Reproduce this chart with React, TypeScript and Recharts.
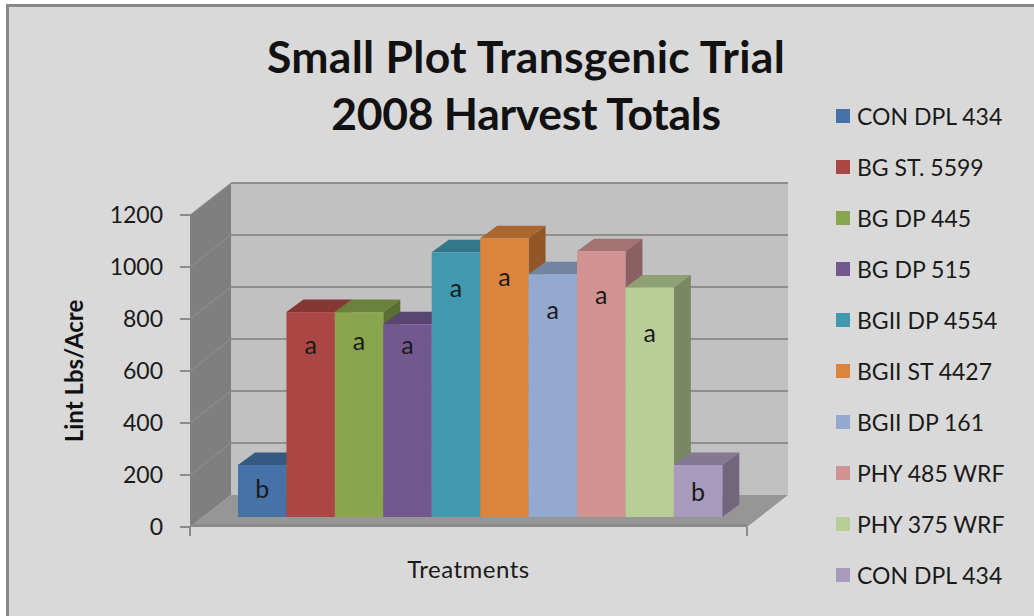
import {
  BarChart,
  Bar,
  XAxis,
  YAxis,
  Legend,
  ReferenceArea,
  ReferenceLine,
} from 'recharts';

const names = [
  'CON DPL 434',
  'BG ST. 5599',
  'BG DP 445',
  'BG DP 515',
  'BGII DP 4554',
  'BGII ST 4427',
  'BGII DP 161',
  'PHY 485 WRF',
  'PHY 375 WRF',
  'CON DPL 434',
];
const values = [200, 788, 788, 741, 1018, 1072, 934, 1022, 883, 200];
const letters = ['b', 'a', 'a', 'a', 'a', 'a', 'a', 'a', 'a', 'b'];
const colors = [
  '#4572a7',
  '#aa4643',
  '#89a54e',
  '#71588f',
  '#4198af',
  '#db843d',
  '#93a9cf',
  '#d19392',
  '#b9cd96',
  '#a99bbd',
];
const yTicks = [0, 200, 400, 600, 800, 1000, 1200];

const row: Record<string, string | number> = { category: 'Treatments' };
values.forEach((v, i) => {
  row[`s${i}`] = v;
});
const data = [row];

const FONT = 'Lato, "Open Sans", sans-serif';
// wall depth and the bars' offset into the floor
const WALL_DX = 41;
const WALL_DY = 32;
const BAR_DX = 12;
const BAR_DY = 10;
const TOP_DX = 17;
const TOP_DY = 12.5;
// how far each letter sits below its bar's top
const letterDrop = [23, 32, 28, 20, 35, 38, 35, 43, 45, 26];

function shade(hex: string, f: number) {
  const n = parseInt(hex.slice(1), 16);
  const r = Math.round(((n >> 16) & 255) * f);
  const g = Math.round(((n >> 8) & 255) * f);
  const b = Math.round((n & 255) * f);
  return `rgb(${r},${g},${b})`;
}

function Walls(props: any) {
  const { x, y, width, height } = props;
  const b = y + height;
  const r = x + width;
  return (
    <g>
      <polygon
        points={`${x},${y} ${x + WALL_DX},${y - WALL_DY} ${x + WALL_DX},${b - WALL_DY} ${x},${b}`}
        fill="#7f7f7f"
      />
      <rect x={x + WALL_DX} y={y - WALL_DY} width={width} height={height} fill="#c1c1c1" />
      <polygon
        points={`${x},${b} ${x + WALL_DX},${b - WALL_DY} ${r + WALL_DX},${b - WALL_DY} ${r},${b}`}
        fill="#969696"
      />
      <rect x={x} y={b - 3} width={width} height={3} fill="#8a8a8a" />
      <line x1={x} x2={x} y1={b} y2={b + 9} stroke="#8a8a8a" strokeWidth={2} />
      <line x1={r} x2={r} y1={b} y2={b + 9} stroke="#8a8a8a" strokeWidth={2} />
    </g>
  );
}

function GridLine(props: any) {
  const { x1, x2, y1 } = props;
  return (
    <g>
      <line x1={x1} x2={x1 + WALL_DX} y1={y1} y2={y1 - WALL_DY} stroke="#929292" strokeWidth={1} />
      <line
        x1={x1 + WALL_DX}
        x2={x2 + WALL_DX}
        y1={y1 - WALL_DY}
        y2={y1 - WALL_DY}
        stroke="#8e8e8e"
        strokeWidth={2}
      />
    </g>
  );
}

function Bar3D(props: any) {
  const { x, y, width, height, fill, index } = props;
  const l = x + BAR_DX;
  const r = l + width;
  const t = y - BAR_DY;
  const b = t + height;
  return (
    <g>
      <polygon
        points={`${l},${t} ${l + TOP_DX},${t - TOP_DY} ${r + TOP_DX},${t - TOP_DY} ${r},${t}`}
        fill={shade(fill, 0.78)}
      />
      <polygon
        points={`${r},${t} ${r + TOP_DX},${t - TOP_DY} ${r + TOP_DX},${b - TOP_DY} ${r},${b}`}
        fill={shade(fill, 0.66)}
      />
      <rect x={l} y={t} width={width} height={height} fill={fill} />
      <text
        x={l + width / 2}
        y={t + letterDrop[index]}
        textAnchor="middle"
        dominantBaseline="central"
        fontFamily={FONT}
        fontSize={25}
        fill="#1a1a1a"
      >
        {letters[index]}
      </text>
    </g>
  );
}

function LegendList({ payload }: any) {
  return (
    <div style={{ fontFamily: FONT, fontSize: 23, color: '#1a1a1a' }}>
      {payload.map((item: any, i: number) => (
        <div key={i} style={{ height: 51, display: 'flex', alignItems: 'center' }}>
          <span
            style={{ width: 14, height: 14, background: item.color, marginRight: 7, flex: 'none' }}
          />
          <span style={{ whiteSpace: 'nowrap' }}>{item.value}</span>
        </div>
      ))}
    </div>
  );
}

export default function App() {
  return (
    <div
      style={{
        position: 'absolute',
        left: 0,
        top: 0,
        width: 1034,
        height: 616,
        overflow: 'hidden',
        background: '#fff',
      }}
    >
      <div
        style={{
          position: 'absolute',
          left: 6,
          top: 4,
          width: 1100,
          height: 700,
          background: '#d9d9d9',
          border: '3px solid #888',
        }}
      />
      <div
        style={{
          position: 'absolute',
          left: 0,
          top: 27,
          width: 1052,
          textAlign: 'center',
          fontFamily: FONT,
          fontWeight: 700,
          fontSize: 44.5,
          lineHeight: '57px',
          color: '#111',
        }}
      >
        <span style={{ letterSpacing: 0.3 }}>Small Plot Transgenic Trial</span>
        <br />
        <span style={{ letterSpacing: -0.3 }}>2008 Harvest Totals</span>
      </div>
      <div style={{ position: 'absolute', left: 0, top: 0 }}>
        <BarChart
          width={1034}
          height={616}
          data={data}
          margin={{ top: 215, right: 287, bottom: 0, left: 0 }}
          barGap={0}
          barSize={48.43}
        >
          <XAxis
            dataKey="category"
            height={89}
            axisLine={false}
            tickLine={false}
            tick={false}
            label={{
              value: 'Treatments',
              position: 'insideBottom',
              offset: 38,
              style: { fontFamily: FONT, fontSize: 24, letterSpacing: 0.5, fill: '#1a1a1a' },
            }}
          />
          <YAxis
            width={190}
            domain={[0, 1200]}
            ticks={yTicks}
            interval={0}
            axisLine={false}
            tickSize={10}
            tickMargin={17}
            tickLine={{ stroke: '#8a8a8a', strokeWidth: 2 }}
            tick={{ fontFamily: FONT, fontSize: 23, fill: '#1a1a1a' }}
            label={{
              value: 'Lint Lbs/Acre',
              angle: -90,
              position: 'insideLeft',
              offset: 74,
              style: {
                fontFamily: FONT,
                fontSize: 24,
                fontWeight: 700,
                fill: '#111',
                textAnchor: 'middle',
              },
            }}
          />
          <Legend
            layout="vertical"
            align="center"
            verticalAlign="middle"
            itemSorter={null}
            content={(p: any) => <LegendList payload={p.payload} />}
            wrapperStyle={{ left: 836, top: 90, width: 198 }}
          />
          <ReferenceArea y1={0} y2={1200} shape={Walls} ifOverflow="visible" zIndex={-20} />
          {yTicks.slice(1).map((t) => (
            <ReferenceLine key={t} y={t} shape={GridLine} ifOverflow="visible" zIndex={-10} />
          ))}
          {names.map((name, i) => (
            <Bar
              key={i}
              name={name}
              dataKey={`s${i}`}
              fill={colors[i]}
              isAnimationActive={false}
              shape={(p: any) => <Bar3D {...p} index={i} />}
            />
          ))}
        </BarChart>
      </div>
    </div>
  );
}
